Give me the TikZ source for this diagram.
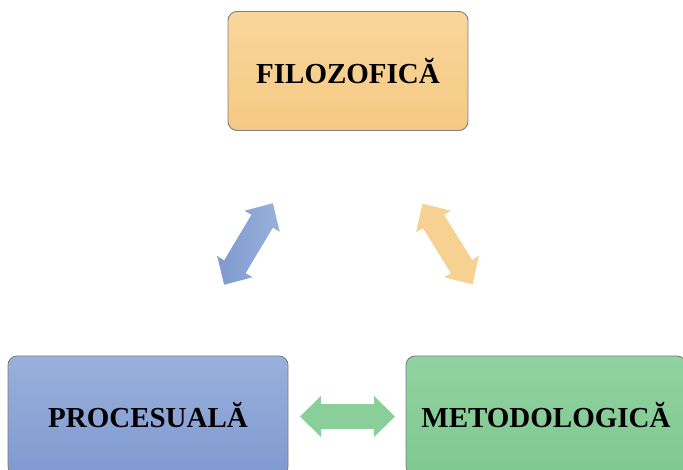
\documentclass[tikz,border=0pt]{standalone}
\usepackage{fontspec}
\setmainfont{Liberation Serif}
\definecolor{orT}{HTML}{F9D69C}
\definecolor{orB}{HTML}{F5C982}
\definecolor{blT}{HTML}{9AB0DC}
\definecolor{blB}{HTML}{7F9AD0}
\definecolor{grT}{HTML}{91D2A1}
\definecolor{grB}{HTML}{7FC890}
\definecolor{edge}{HTML}{7F7F7F}
\begin{document}
\begin{tikzpicture}[x=1pt,y=1pt,
  box/.style={draw=edge, line width=0.9pt, rounded corners=9pt,
    font=\fontsize{29}{34}\selectfont\bfseries, text=black, inner sep=0pt},
  topbox/.style={box, minimum width=240pt, minimum height=119pt},
  botbox/.style={box, minimum width=280pt, minimum height=119pt},
  dblarrow/.pic={\path[pic actions] (-47.5,0) -- (-26.5,20.5) -- (-26.5,12.5) -- (26.5,12.5)
     -- (26.5,20.5) -- (47.5,0) -- (26.5,-20.5) -- (26.5,-12.5) -- (-26.5,-12.5)
     -- (-26.5,-20.5) -- cycle;}
]
\useasboundingbox (0,0) rectangle (683,-470);
\begin{scope}
\clip (0,0) rectangle (683,-470);
\node[topbox, top color=orT, bottom color=orB] (filo) at (348,-71) {FILOZOFICĂ};
\node[botbox, top color=blT, bottom color=blB] (proc) at (148,-415.5) {PROCESUALĂ};
\node[botbox, top color=grT, bottom color=grB] (meto) at (546,-415.5) {METODOLOGICĂ};
\pic[rotate=59.1, left color=blB, right color=blT] (ab) at (248.5,-244) {dblarrow};
\pic[rotate=-58.1, fill=orT!60!orB] (ao) at (447.5,-244) {dblarrow};
\pic[fill=grT!60!grB] (ag) at (347.5,-416.5) {dblarrow};
\end{scope}
\end{tikzpicture}
\end{document}
